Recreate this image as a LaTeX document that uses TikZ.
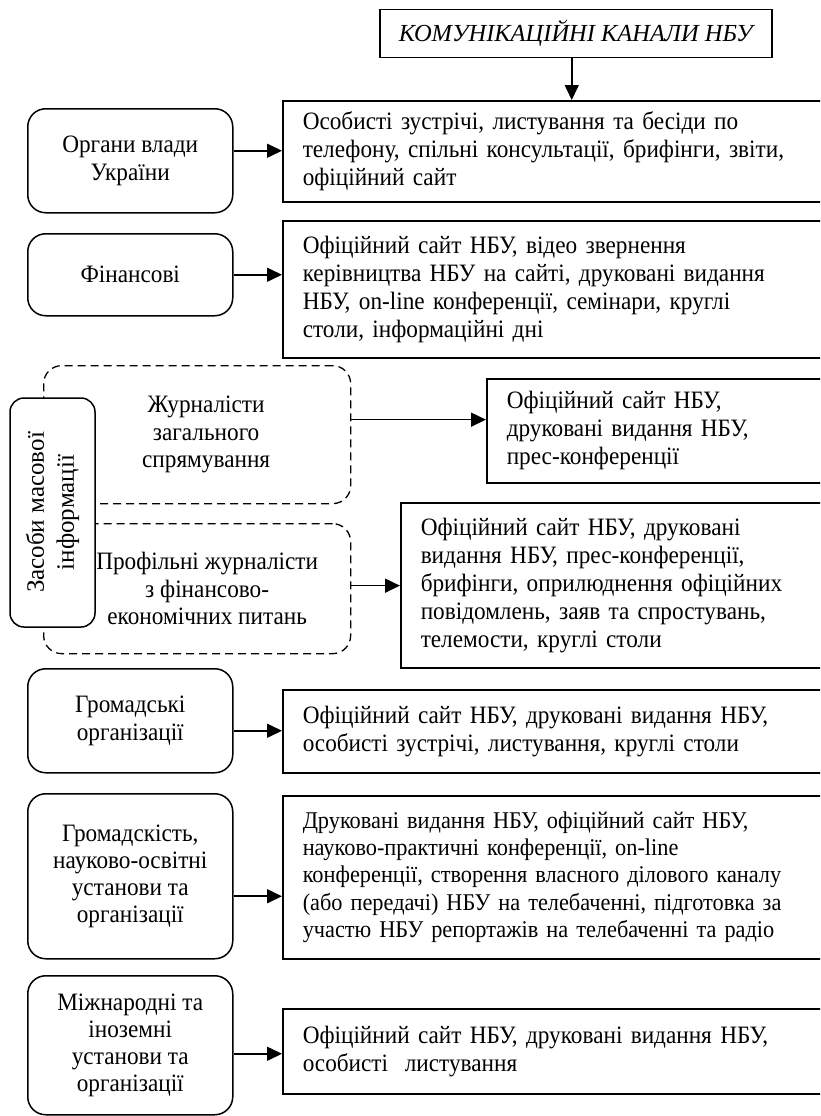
\documentclass[tikz,border=0pt]{standalone}
\usepackage{fontspec}
\setmainfont{Liberation Serif}[FakeStretch=0.93]
\newfontfamily\plainserif{Liberation Serif}
\usetikzlibrary{arrows.meta}
\tikzset{
  base/.style={line width=1.5pt},
  rbox/.style={base, draw, anchor=north west, align=left, inner xsep=20pt, inner ysep=0pt,
    font=\fontsize{25}{28}\selectfont},
  lbox/.style={base, draw, rounded corners=18pt, anchor=north west, align=center,
    minimum width=205pt, inner sep=2pt, font=\fontsize{25}{28.5}\selectfont},
  dbox/.style={line width=1.3pt, draw, dash pattern=on 8pt off 5pt, rounded corners=18pt,
    anchor=north west, minimum width=307pt},
  txt/.style={align=center, inner sep=0pt, font=\fontsize{25}{27.5}\selectfont},
  arr/.style={line width=1.6pt, -{Triangle[length=15pt,width=14pt]}}
}
\begin{document}
\begin{tikzpicture}[x=1pt,y=-1pt]
\useasboundingbox (0,0) rectangle (820,1116);
\clip (0,0) rectangle (820,1116);

% top box
\node[base, draw, anchor=north west, minimum width=392pt, minimum height=48pt, inner sep=0pt,
  font=\plainserif\fontsize{24.5}{27.5}\selectfont\itshape] (top) at (379,9) {КОМУНІКАЦІЙНІ КАНАЛИ НБУ};

% right boxes
\node[rbox, minimum height=101pt, text width=499pt] (r1) at (282,100)
  {Особисті зустрічі, листування та бесіди по\\телефону, спільні консультації, брифінги, звіти,\\офіційний сайт};
\node[rbox, minimum height=137pt, text width=499pt] (r2) at (282,220)
  {Офіційний сайт НБУ, відео звернення\\керівництва НБУ на сайті, друковані видання\\НБУ, on-line конференції, семінари, круглі\\столи, інформаційні дні};
\node[rbox, minimum height=104pt, text width=295pt] (r3) at (486,378)
  {Офіційний сайт НБУ,\\друковані видання НБУ,\\прес-конференції};
\node[rbox, minimum height=165pt, text width=381pt] (r4) at (400,502)
  {Офіційний сайт НБУ, друковані\\видання НБУ, прес-конференції,\\брифінги, оприлюднення офіційних\\повідомлень, заяв та спростувань,\\телемости, круглі столи};
\node[rbox, minimum height=83pt, text width=499pt] (r5) at (282,689)
  {Офіційний сайт НБУ, друковані видання НБУ,\\особисті зустрічі, листування, круглі столи};
\node[rbox, minimum height=163pt, text width=499pt, font=\fontsize{24}{27.2}\selectfont] (r6) at (282,795)
  {Друковані видання НБУ, офіційний сайт НБУ,\\науково-практичні конференції, on-line\\конференції, створення власного ділового каналу\\(або передачі) НБУ на телебаченні, підготовка за\\участю НБУ репортажів на телебаченні та радіо};
\node[rbox, minimum height=85pt, text width=499pt] (r7) at (282,1008)
  {Офіційний сайт НБУ, друковані видання НБУ,\\особисті\ \ листування};

% left boxes
\node[lbox, minimum height=104pt] (l1) at (27,108) {Органи влади\\України};
\node[lbox, minimum height=82pt] (l2) at (27,233) {Фінансові};
\node[lbox, minimum height=104pt] (l5) at (27,668) {Громадські\\організації};
\node[lbox, minimum height=165pt, font=\fontsize{25}{27}\selectfont] (l6) at (27,793) {Громадскість,\\науково-освітні\\установи та\\організації};
\node[lbox, minimum height=139pt, font=\fontsize{25}{27}\selectfont] (l7) at (27,975) {Міжнародні та\\іноземні\\установи та\\організації};

% media group
\node[dbox, minimum height=138pt] (d1) at (43,365) {};
\node[dbox, minimum height=130pt] (d2) at (43,523) {};
\node[txt] (d1t) at ([xshift=9pt]d1.center) {Журналісти\\загального\\спрямування};
\node[txt] (d2t) at ([xshift=10pt]d2.center) {Профільні журналісти\\з фінансово-\\економічних питань};
\node[base, draw, fill=white, rounded corners=14pt, rotate=90, minimum width=229pt,
  minimum height=85pt, inner sep=0pt, align=center, font=\plainserif\fontsize{25}{30}\selectfont] (v) at (52.5,512.5)
  {Засоби масової\\інформації};

% connectors
\draw[arr] ([xshift=-4pt]top.south) -- ([xshift=-4pt]top.south |- r1.north);
\draw[arr] ([yshift=10pt]l1.east) coordinate (a1) -- (a1 -| r1.west);
\draw[arr] (l2.east) coordinate (a2) -- (a2 -| r2.west);
\draw[arr] ([yshift=15pt]d1.east) coordinate (a3) -- (a3 -| r3.west);
\draw[arr] ([yshift=3pt]d2.east) coordinate (a4) -- (a4 -| r4.west);
\draw[arr] ([yshift=-10pt]l5.east) coordinate (a5) -- (a5 -| r5.west);
\draw[arr] ([yshift=-20pt]l6.east) coordinate (a6) -- (a6 -| r6.west);
\draw[arr] ([yshift=-8.5pt]l7.east) coordinate (a7) -- (a7 -| r7.west);
\end{tikzpicture}
\end{document}
